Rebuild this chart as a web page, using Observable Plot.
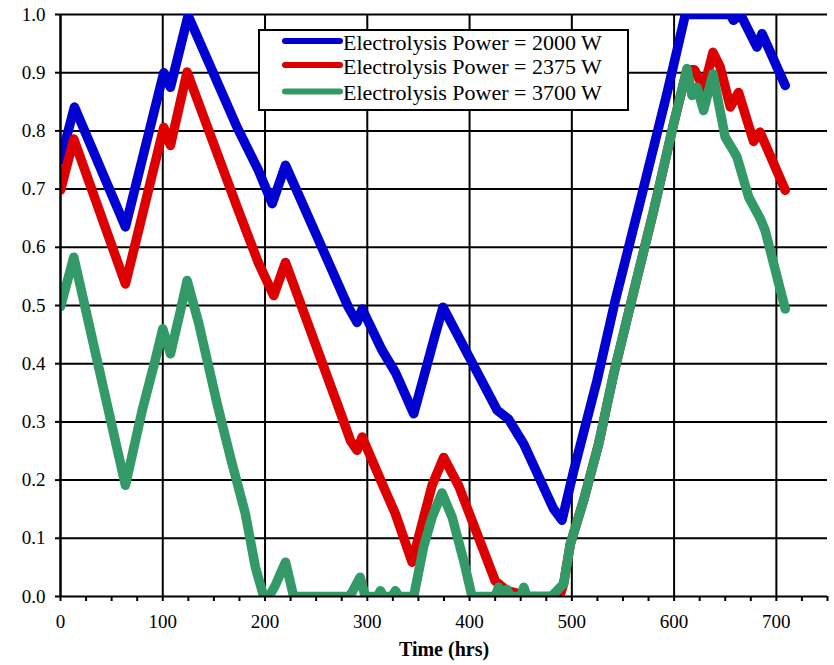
<!DOCTYPE html>
<html>
<head>
<meta charset="utf-8">
<script src="https://cdn.jsdelivr.net/npm/d3@7"></script>
<script src="https://cdn.jsdelivr.net/npm/@observablehq/plot@0.6"></script>
<style>
html, body { margin: 0; padding: 0; background: #fff; }
#chart svg { display: block; }
</style>
</head>
<body>
<div id="chart"></div>
<script>
// ---- Data ----
const seriesNames = ["Electrolysis Power = 2000 W", "Electrolysis Power = 2375 W", "Electrolysis Power = 3700 W"];
const seriesColors = ["#0000d0", "#dd0000", "#339966"];

const hours2000 = [0, 13.7, 63.5, 101, 107.5, 124.8, 172.7, 193.6, 207, 220, 281.5, 290, 295, 314.5, 327.5, 345.4, 366.6, 374, 387.8, 427, 438, 453, 482, 490.4, 501.8, 524.6, 542.5, 567, 593, 611, 655, 658, 665, 681, 686, 708.7];
const soc2000 = [0.75, 0.841, 0.635, 0.90, 0.875, 0.998, 0.806, 0.732, 0.675, 0.741, 0.497, 0.471, 0.494, 0.423, 0.385, 0.314, 0.451, 0.497, 0.451, 0.320, 0.305, 0.262, 0.151, 0.131, 0.216, 0.371, 0.509, 0.68, 0.864, 1.0, 1.0, 0.99, 1.0, 0.944, 0.967, 0.878];

const hours2375 = [0, 13, 63.5, 101, 107.5, 123.8, 172.7, 193.8, 208.5, 220, 275.4, 283.5, 290, 295, 314.5, 327.5, 343.8, 363.3, 374.7, 389.4, 425, 436.6, 459, 488, 492, 498.5, 511.5, 526.2, 541, 558.8, 580, 599.5, 612.6, 620, 629, 638, 645, 655, 663, 677.7, 684, 708.7];
const soc2375 = [0.698, 0.786, 0.537, 0.806, 0.775, 0.901, 0.669, 0.572, 0.517, 0.574, 0.308, 0.268, 0.251, 0.274, 0.194, 0.142, 0.059, 0.191, 0.239, 0.190, 0.027, 0.010, 0, 0, 0.022, 0.09, 0.165, 0.262, 0.383, 0.512, 0.663, 0.812, 0.905, 0.905, 0.873, 0.935, 0.91, 0.841, 0.866, 0.782, 0.798, 0.698];

const hours3700 = [0, 13, 63.5, 79.9, 92.9, 100, 107.5, 117.3, 123.8, 135.2, 153.2, 166.2, 180.8, 190.6, 198.7, 204, 210, 220, 228, 282, 285, 293, 298, 310, 312.8, 316, 324, 327.5, 331, 345.4, 355, 363.3, 373, 383, 394.2, 402.4, 425, 428.4, 432, 436.6, 440, 450, 453, 456, 480, 492, 498.5, 511.5, 526.2, 541, 558.8, 580, 599.5, 612.6, 617.5, 622.4, 628.8, 638, 650, 658, 661.5, 673, 684.3, 689, 708.7];
const soc3700 = [0.498, 0.583, 0.191, 0.32, 0.408, 0.46, 0.417, 0.491, 0.543, 0.469, 0.331, 0.239, 0.142, 0.05, 0, 0, 0.019, 0.059, 0, 0, 0.007, 0.033, 0, 0, 0.01, 0, 0, 0.01, 0, 0, 0.085, 0.136, 0.178, 0.136, 0.062, 0, 0, 0.016, 0.005, 0.012, 0, 0, 0.016, 0, 0, 0.022, 0.09, 0.165, 0.262, 0.383, 0.512, 0.663, 0.812, 0.907, 0.861, 0.875, 0.835, 0.898, 0.789, 0.766, 0.755, 0.686, 0.649, 0.629, 0.494];

const xMajorTicks = [0, 100, 200, 300, 400, 500, 600, 700];
const xAllTicks = [0, 25, 50, 75, 100, 125, 150, 175, 200, 225, 250, 275, 300, 325, 350, 375, 400, 425, 450, 475, 500, 525, 550, 575, 600, 625, 650, 675, 700, 725, 750];
const yTicks = [0, 0.1, 0.2, 0.3, 0.4, 0.5, 0.6, 0.7, 0.8, 0.9, 1.0];
const xLabel = "Time (hrs)";

// ---- Build table ----
const data = [];
function addSeries(name, hrs, vals) {
  hrs.forEach((h, i) => data.push({series: name, hours: h, value: vals[i]}));
}
addSeries(seriesNames[0], hours2000, soc2000);
addSeries(seriesNames[1], hours2375, soc2375);
addSeries(seriesNames[2], hours3700, soc3700);

const fontFamily = '"Liberation Serif", "Times New Roman", Times, serif';

const svg = Plot.plot({
  width: 834,
  height: 665,
  marginLeft: 60,
  marginRight: 7,
  marginTop: 14,
  marginBottom: 69,
  style: {fontFamily, fontSize: "19px", color: "#000", background: "#fff", overflow: "visible"},
  x: {domain: [0, 750]},
  y: {domain: [0, 1]},
  color: {domain: seriesNames, range: seriesColors},
  marks: [
    Plot.gridX(xMajorTicks, {stroke: "#000", strokeOpacity: 1, strokeWidth: 2}),
    Plot.gridY(yTicks.filter(d => d > 0), {stroke: "#000", strokeOpacity: 1, strokeWidth: 2}),
    Plot.line(data, {x: "hours", y: "value", z: "series", stroke: "series", strokeWidth: 9.5,
      strokeLinejoin: "round", strokeLinecap: "round", clip: true}),
    Plot.ruleY([0], {stroke: "#000", strokeWidth: 2}),
    Plot.ruleX([0], {stroke: "#000", strokeWidth: 2}),
    Plot.axisX(xAllTicks, {tickSize: 5, tickPadding: 13, strokeWidth: 2,
      tickFormat: d => xMajorTicks.includes(d) ? String(d) : "", label: null}),
    Plot.axisY(yTicks, {tickSize: 5, tickPadding: 10, strokeWidth: 2,
      tickFormat: d3.format(".1f"), label: null}),
    Plot.text([xLabel], {frameAnchor: "bottom", dy: 59, fontWeight: "bold", fontSize: 20})
  ]
});

// ---- Legend (boxed, inside the plot) ----
const lg = d3.select(svg).append("g")
  .attr("font-family", fontFamily).attr("font-size", 22).attr("text-anchor", "start");
lg.append("rect").attr("x", 259).attr("y", 30).attr("width", 369).attr("height", 80)
  .attr("fill", "#fff").attr("stroke", "#000").attr("stroke-width", 2);
const rowY = [41, 65, 91.5];
seriesNames.forEach((name, i) => {
  lg.append("line").attr("x1", 285).attr("x2", 340).attr("y1", rowY[i]).attr("y2", rowY[i])
    .attr("stroke", seriesColors[i]).attr("stroke-width", 6).attr("stroke-linecap", "round");
  lg.append("text").attr("x", 343).attr("y", rowY[i] + 8.5).attr("fill", "#000")
    .attr("text-anchor", "start").text(name);
});

document.getElementById("chart").appendChild(svg);
</script>
</body>
</html>
